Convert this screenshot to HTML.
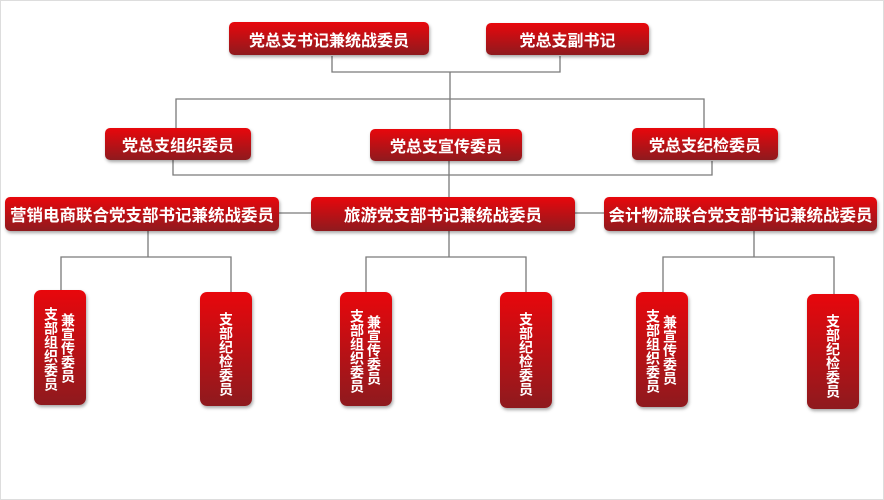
<!DOCTYPE html>
<html><head><meta charset="utf-8"><style>
body{margin:0;width:884px;height:500px;background:#fff;position:relative;overflow:hidden;font-family:"Liberation Sans","Noto Sans CJK SC",sans-serif}
.frame{position:absolute;left:0;top:0;width:882px;height:498px;border:1px solid #ddd}
.b{position:absolute;background:linear-gradient(#e8070c,#8e1a1e);border-radius:5px;color:#fff;font-weight:bold;font-size:16px;display:flex;align-items:center;justify-content:center;box-shadow:1px 2px 3px rgba(0,0,0,.35);white-space:nowrap}
.v{border-radius:7px;font-size:14px;align-items:flex-start}
.vt{writing-mode:vertical-rl;letter-spacing:0;line-height:16px;position:absolute}
svg{position:absolute;left:0;top:0}
</style></head><body>
<div class="frame"></div>
<svg width="884" height="500" fill="none" stroke="#7a7a7a" stroke-width="1.3">
<path d="M332 56V72H560V56M450 72V129M176 128V99H704V129"/>
<path d="M173 160V175H712V161M449 161V197M279 213H311M575 213H604"/>
<path d="M148 231V257M61 290V257H231V292M449 231V257M366 292V257H526V292M754 231V257M663 292V257H834V294"/>
</svg>
<div class="b" style="left:229px;top:22px;width:200px;height:33px">党总支书记兼统战委员</div>
<div class="b" style="left:486px;top:23px;width:163px;height:32px">党总支副书记</div>
<div class="b" style="left:105px;top:128px;width:146px;height:32px">党总支组织委员</div>
<div class="b" style="left:370px;top:129px;width:152px;height:32px">党总支宣传委员</div>
<div class="b" style="left:632px;top:128px;width:146px;height:32px">党总支纪检委员</div>
<div class="b" style="left:5px;top:197px;width:274px;height:34px;font-size:16.5px">营销电商联合党支部书记兼统战委员</div>
<div class="b" style="left:311px;top:197px;width:264px;height:34px;font-size:16.5px">旅游党支部书记兼统战委员</div>
<div class="b" style="left:604px;top:197px;width:273px;height:34px;font-size:16.5px">会计物流联合党支部书记兼统战委员</div>

<div class="b v" style="left:34px;top:290px;width:52px;height:115px"><span class="vt" style="left:9px;top:17px">支部组织委员</span><span class="vt" style="left:26px;top:23px">兼宣传委员</span></div>
<div class="b v" style="left:200px;top:292px;width:52px;height:114px"><span class="vt" style="left:18px;top:20px">支部纪检委员</span></div>
<div class="b v" style="left:340px;top:292px;width:52px;height:114px"><span class="vt" style="left:9px;top:17px">支部组织委员</span><span class="vt" style="left:26px;top:23px">兼宣传委员</span></div>
<div class="b v" style="left:500px;top:292px;width:52px;height:116px"><span class="vt" style="left:18px;top:20px">支部纪检委员</span></div>
<div class="b v" style="left:636px;top:292px;width:52px;height:115px"><span class="vt" style="left:9px;top:17px">支部组织委员</span><span class="vt" style="left:26px;top:23px">兼宣传委员</span></div>
<div class="b v" style="left:807px;top:294px;width:52px;height:115px"><span class="vt" style="left:18px;top:20px">支部纪检委员</span></div>
</body></html>
